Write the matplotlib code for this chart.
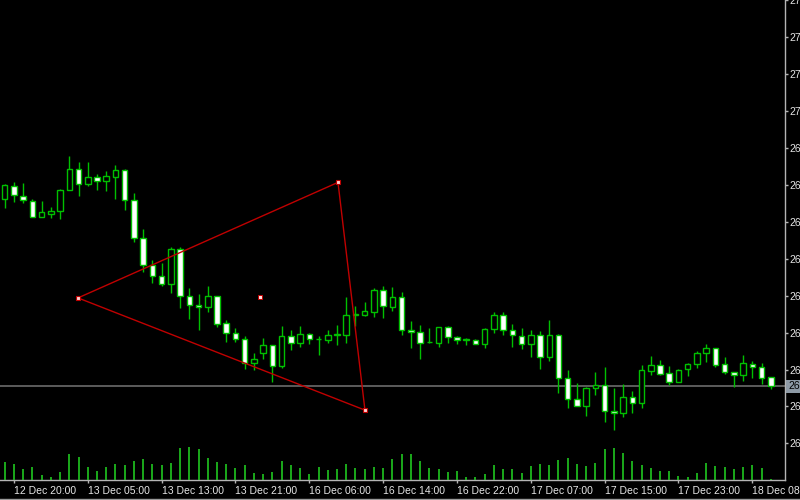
#!/usr/bin/env python3
"""
XAUUSD H1 — MT4-style candle chart with a triangle object drawn on it
"""
import numpy as np
import matplotlib
matplotlib.use('Agg')
import matplotlib.pyplot as plt
from matplotlib.lines import Line2D

# ── Hourly bars ──
opens = [2676.2, 2679.8, 2677.1, 2675.6, 2671.3, 2672.1, 2672.9, 2678.7, 2684.2, 2680.2,
         2682.2, 2681.1, 2682.1, 2684.1, 2676.0, 2665.5, 2658.3, 2655.3, 2653.2, 2662.6,
         2649.8, 2647.5, 2647.0, 2649.8, 2642.5, 2639.9, 2638.4, 2631.8, 2634.5, 2636.6,
         2630.9, 2639.0, 2637.1, 2639.5, 2638.2, 2638.1, 2639.4, 2639.4, 2644.8, 2644.7,
         2645.7, 2651.5, 2647.0, 2649.7, 2640.7, 2640.3, 2637.4, 2637.3, 2641.4, 2638.7,
         2638.1, 2638.1, 2636.8, 2641.1, 2644.8, 2640.7, 2639.2, 2636.8, 2639.3, 2633.4,
         2639.4, 2627.6, 2622.1, 2620.0, 2624.9, 2625.9, 2618.7, 2618.2, 2622.5, 2620.8,
         2629.6, 2631.2, 2629.0, 2626.6, 2630.2, 2631.5, 2634.5, 2635.7, 2631.5, 2629.3,
         2628.4, 2631.5, 2630.7, 2627.9]
highs = [2680.2, 2680.9, 2680.5, 2676.2, 2675.6, 2674.0, 2678.8, 2687.8, 2686.2, 2686.2,
         2682.9, 2683.9, 2685.3, 2684.4, 2677.7, 2668.1, 2659.7, 2658.8, 2663.3, 2663.3,
         2652.2, 2650.4, 2652.7, 2649.9, 2643.3, 2641.3, 2639.1, 2634.6, 2638.5, 2636.7,
         2641.8, 2640.6, 2641.8, 2640.0, 2639.1, 2640.6, 2642.0, 2649.7, 2647.2, 2648.4,
         2652.2, 2652.7, 2652.4, 2650.9, 2643.2, 2642.0, 2641.3, 2641.6, 2641.9, 2639.0,
         2638.6, 2638.3, 2641.3, 2645.6, 2645.6, 2642.4, 2641.3, 2640.6, 2640.4, 2643.3,
         2639.5, 2630.0, 2626.4, 2625.2, 2629.3, 2630.7, 2624.9, 2626.1, 2624.1, 2631.2,
         2633.6, 2632.5, 2630.9, 2630.1, 2631.7, 2635.0, 2636.8, 2635.8, 2633.4, 2629.4,
         2633.9, 2632.2, 2631.7, 2628.0]
lows = [2673.7, 2675.5, 2675.1, 2671.2, 2671.2, 2671.1, 2670.8, 2678.6, 2677.1, 2679.6,
        2678.7, 2678.3, 2676.2, 2673.3, 2664.6, 2656.5, 2653.5, 2652.5, 2650.8, 2646.6,
        2643.6, 2640.6, 2645.6, 2641.5, 2637.4, 2637.4, 2630.2, 2629.8, 2632.9, 2626.6,
        2630.5, 2635.2, 2636.2, 2637.0, 2633.9, 2637.2, 2636.6, 2637.3, 2641.8, 2644.6,
        2644.2, 2643.9, 2645.9, 2639.3, 2635.7, 2632.9, 2637.2, 2636.2, 2637.3, 2636.8,
        2636.6, 2636.8, 2635.9, 2639.8, 2639.4, 2636.2, 2635.6, 2633.4, 2630.2, 2632.3,
        2623.7, 2619.6, 2620.0, 2617.5, 2623.2, 2615.8, 2613.5, 2617.2, 2618.1, 2619.6,
        2628.4, 2628.6, 2625.9, 2626.5, 2628.2, 2630.5, 2632.1, 2630.7, 2628.8, 2625.4,
        2627.0, 2627.8, 2626.2, 2624.7]
closes = [2680.0, 2677.3, 2675.8, 2671.4, 2672.6, 2673.0, 2678.7, 2684.2, 2680.3, 2682.2,
          2681.2, 2682.4, 2684.1, 2676.0, 2665.5, 2658.2, 2655.3, 2653.2, 2662.6, 2649.8,
          2647.4, 2647.0, 2649.8, 2642.4, 2639.9, 2638.4, 2631.8, 2632.9, 2636.6, 2631.0,
          2639.1, 2637.1, 2639.5, 2638.2, 2638.3, 2639.3, 2639.5, 2644.8, 2644.9, 2645.9,
          2651.5, 2647.1, 2649.7, 2640.7, 2640.3, 2637.3, 2637.5, 2641.4, 2638.7, 2638.1,
          2638.2, 2636.8, 2641.1, 2644.8, 2640.7, 2639.3, 2636.8, 2639.3, 2633.4, 2639.4,
          2627.6, 2622.1, 2620.0, 2624.9, 2625.8, 2618.7, 2618.2, 2622.5, 2620.8, 2629.8,
          2631.2, 2628.8, 2626.6, 2630.0, 2631.5, 2634.5, 2635.7, 2631.2, 2629.2, 2628.6,
          2631.7, 2630.7, 2627.8, 2625.5]
volumes = [1830, 1630, 1070, 1330, 500, 270, 770, 2570, 2300, 1270,
           930, 1330, 1630, 1470, 1900, 2130, 1570, 1500, 1730, 3200,
           3300, 3150, 2200, 1770, 1630, 1170, 1530, 670, 600, 800,
           1870, 1470, 1170, 630, 1300, 970, 1070, 1570, 1200, 1100,
           1270, 1200, 2130, 2600, 2600, 1870, 1200, 1070, 770, 900,
           300, 270, 600, 1530, 1100, 1070, 700, 1400, 1600, 1530,
           1970, 2200, 1630, 1400, 1700, 3100, 3200, 2670, 1900, 1470,
           1230, 900, 930, 370, 300, 670, 1670, 1370, 1300, 1070,
           1300, 1470, 1230, 100]

# time scale: a label every 8 bars (first one is off the left edge)
label_bars = [-7, 1, 9, 17, 25, 33, 41, 49, 57, 65, 73, 81]
time_labels = ['12 Dec 12:00', '12 Dec 20:00', '13 Dec 05:00', '13 Dec 13:00',
               '13 Dec 21:00', '16 Dec 06:00', '16 Dec 14:00', '16 Dec 22:00',
               '17 Dec 07:00', '17 Dec 15:00', '17 Dec 23:00', '18 Dec 08:00']
price_ticks = np.arange(2610, 2731, 10)

# triangle object (bar index, price) of its three anchor points
tri_bar = [7.94, 36.11, 39.03]
tri_price = [2649.4, 2680.7, 2619.0]

# ── Colours (MT4 "green on black") ──
BG = 'black'
CANDLE = '#00c000'
VOL = '#22d822'
AXIS = '#b4b4b4'
TXT = '#e6e6e6'
TRI = '#c00000'

plt.rcParams['font.family'] = ['Liberation Sans', 'DejaVu Sans']

fig = plt.figure(figsize=(8, 5), dpi=100, facecolor=BG)
rect = [0, 0.04, 0.98125, 0.96]
ax = fig.add_axes(rect, facecolor=BG)

n = len(opens)
x = np.arange(n)
o = np.array(opens)
c = np.array(closes)

# wicks first, bodies on top (hollow bull bodies hide the wick)
ax.vlines(x, lows, highs, color=CANDLE, linewidth=1, zorder=2)
body_lo = np.minimum(o, c)
body_h = np.maximum(np.abs(c - o), 0.12)
faces = ['white' if cc < oo else 'black' for oo, cc in zip(o, c)]
ax.bar(x, body_h, bottom=body_lo, width=0.6, color=faces,
       edgecolor=CANDLE, linewidth=1, zorder=3)

# bid line + price box
bid = closes[-1]
ax.axhline(bid, color='#6c6c6c', linewidth=1.2, zorder=1)
ax.annotate(f'{bid:.2f}', xy=(1, bid), xycoords=('axes fraction', 'data'),
            xytext=(2.2, 0), textcoords='offset points', va='center', ha='left',
            fontsize=7.5, color='black', annotation_clip=False,
            bbox=dict(boxstyle='square,pad=0.15', fc='#8e9aa6', ec='none'))

# triangle
tx = tri_bar + tri_bar[:1]
ty = tri_price + tri_price[:1]
ax.plot(tx, ty, color=TRI, linewidth=1, zorder=4)
ax.plot(tri_bar, tri_price, 's', ms=2.6, mfc='#ffd0d0', mec=TRI, mew=0.8, zorder=5)
ax.plot([np.mean(tri_bar)], [np.mean(tri_price)], 's', ms=2.4,
        mfc='#ffe0e0', mec=TRI, mew=0.7, zorder=5)

# ── Axes look ──
ax.yaxis.tick_right()
ax.set_yticks(price_ticks)
ax.set_yticklabels([f'{p:.2f}' for p in price_ticks])
ax.set_xticks(label_bars)
ax.set_xticklabels(time_labels, ha='left')
ax.set_xlim(-0.51, 84.54)          # after set_xticks, which widens the view
ax.set_ylim(2600.07, 2730.11)
ax.tick_params(axis='both', colors=AXIS, labelcolor=TXT, labelsize=7.5,
               length=2.2, width=1, direction='out')
ax.tick_params(axis='y', pad=0.8)
ax.tick_params(axis='x', pad=2)
for s in ('top', 'left'):
    ax.spines[s].set_visible(False)
for s in ('right', 'bottom'):
    ax.spines[s].set_color(AXIS)
    ax.spines[s].set_linewidth(1)

# ── Volumes along the bottom of the main window (own transparent axes) ──
axv = fig.add_axes(rect, facecolor='none')
axv.vlines(x, 0, volumes, color=VOL, linewidth=1.1)
axv.set_xlim(ax.get_xlim())
axv.set_ylim(0, 48000)
axv.axis('off')

# window border under the time scale
fig.add_artist(Line2D([0, 1], [0.003, 0.003], color='#9a9a9a', linewidth=1,
                      transform=fig.transFigure))

plt.savefig('out.png', dpi=100, facecolor=BG)
print('Done -> out.png')
